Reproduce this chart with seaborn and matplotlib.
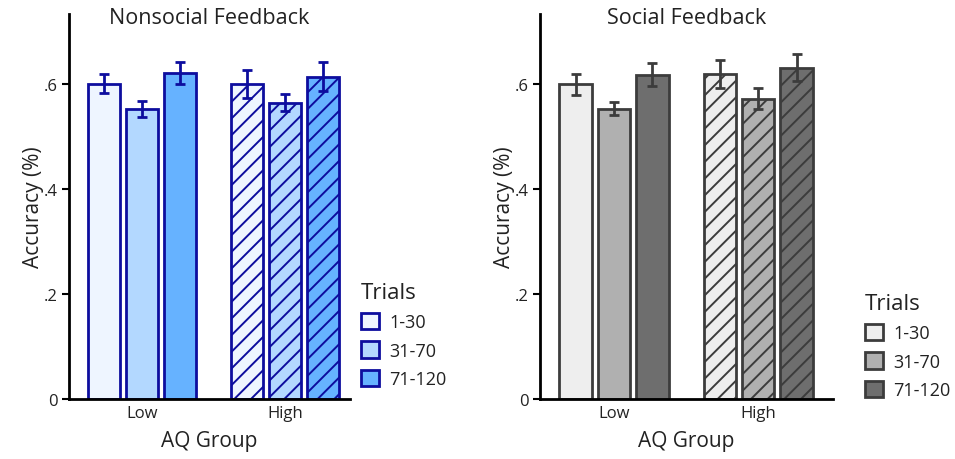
import matplotlib
matplotlib.use("Agg")
import matplotlib.pyplot as plt
from matplotlib.patches import Patch
import seaborn as sns
import pandas as pd

groups = ["Low", "High"]
trials = ["1-30", "31-70", "71-120"]

nonsocial_low = [0.600, 0.552, 0.621]
nonsocial_high = [0.600, 0.564, 0.614]
nonsocial_low_err = [0.018, 0.015, 0.021]
nonsocial_high_err = [0.026, 0.016, 0.028]

social_low = [0.599, 0.553, 0.617]
social_high = [0.619, 0.572, 0.631]
social_low_err = [0.020, 0.013, 0.022]
social_high_err = [0.026, 0.020, 0.026]

yticks = [0, 0.2, 0.4, 0.6]
ytick_labels = ["0", ".2", ".4", ".6"]

blue_fill = ["#EEF5FF", "#B3D8FF", "#66B2FF"]
blue_edge = "#0D0D9E"
gray_fill = ["#EEEEEE", "#B0B0B0", "#6E6E6E"]
gray_edge = "#3C3C3C"

sns.set_style("white")
FONT = ["Open Sans", "DejaVu Sans"]
plt.rcParams["font.family"] = FONT
plt.rcParams["hatch.linewidth"] = 1.4
TXT = "#222222"


def make_df(low, high, low_err, high_err):
    rows = []
    for g, vals, errs in (("Low", low, low_err), ("High", high, high_err)):
        for t, v, e in zip(trials, vals, errs):
            rows.append({"AQ Group": g, "Trials": t, "Accuracy": v, "err": e})
    return pd.DataFrame(rows)


fig = plt.figure(figsize=(9.55, 4.6), dpi=100)
ax1 = fig.add_axes([69 / 955, 60 / 460, 281 / 955, 385 / 460])
ax2 = fig.add_axes([540 / 955, 60 / 460, 293 / 955, 385 / 460])

panels = [
    (ax1, make_df(nonsocial_low, nonsocial_high, nonsocial_low_err, nonsocial_high_err),
     blue_fill, blue_edge, "Nonsocial Feedback", (-0.51, 1.455), (361 / 955, 1 - 283 / 460)),
    (ax2, make_df(social_low, social_high, social_low_err, social_high_err),
     gray_fill, gray_edge, "Social Feedback", (-0.514, 1.52), (865 / 955, 1 - 294 / 460)),
]

for ax, df, fills, edge, title, xlim, legpos in panels:
    sns.barplot(data=df, x="AQ Group", y="Accuracy", hue="Trials",
                order=groups, hue_order=trials, palette=fills, saturation=1,
                errorbar=None, width=0.8, gap=0.16, linewidth=2,
                edgecolor=edge, legend=False, ax=ax)
    bars = sorted(ax.patches, key=lambda p: p.get_x())
    for bar, (_, row) in zip(bars, df.iterrows()):
        xc = bar.get_x() + bar.get_width() / 2
        ax.errorbar(xc, bar.get_height(), yerr=row["err"], fmt="none",
                    ecolor=edge, elinewidth=2, capsize=3.5, capthick=2, zorder=5)
        if row["AQ Group"] == "High":
            bar.set_hatch("//")
    ax.set_xlim(*xlim)
    ax.set_ylim(0, 0.733)
    ax.set_yticks(yticks)
    ax.set_yticklabels(ytick_labels)
    ax.tick_params(axis="y", which="major", left=True, length=5, width=1.5,
                   labelsize=12, color="black", pad=3)
    ax.tick_params(axis="x", bottom=False, labelsize=12, pad=1)
    for lab in ax.get_xticklabels() + ax.get_yticklabels():
        lab.set_color(TXT)
    for s in ("top", "right"):
        ax.spines[s].set_visible(False)
    for s in ("left", "bottom"):
        ax.spines[s].set_linewidth(2)
        ax.spines[s].set_color("black")
    ax.set_xlabel("AQ Group", fontsize=15, color=TXT, labelpad=6)
    ax.set_ylabel("Accuracy (%)", fontsize=15, color=TXT, labelpad=0)
    ax.set_title(title, fontsize=15.5, color=TXT, y=0.99, pad=0, va="center")

    handles = [Patch(facecolor=f, edgecolor=edge, linewidth=2, label=t)
               for f, t in zip(fills, trials)]
    leg = fig.legend(handles=handles, title="Trials", loc="upper left",
                     bbox_to_anchor=legpos, frameon=False, fontsize=13,
                     title_fontsize=16, handlelength=1.0, handleheight=1.0,
                     handletextpad=0.55, labelspacing=0.56, borderaxespad=0,
                     borderpad=0)
    leg._legend_box.align = "left"
    for t in leg.get_texts():
        t.set_color(TXT)
    leg.get_title().set_color(TXT)

fig.savefig("out.png", dpi=100)
